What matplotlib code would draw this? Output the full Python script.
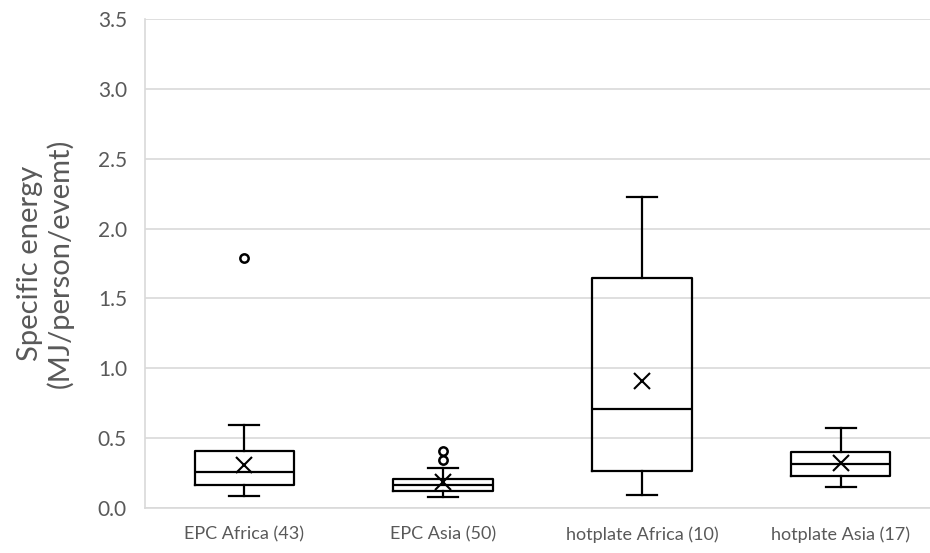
import matplotlib.pyplot as plt

# box statistics
labels = ["EPC Africa (43)", "EPC Asia (50)", "hotplate Africa (10)", "hotplate Asia (17)"]
whislo = [0.084, 0.079, 0.091, 0.148]
q1 = [0.163, 0.122, 0.268, 0.232]
med = [0.256, 0.163, 0.710, 0.316]
q3 = [0.409, 0.206, 1.643, 0.402]
whishi = [0.595, 0.285, 2.226, 0.576]
means = [0.308, 0.189, 0.911, 0.325]
fliers = [[1.786], [0.34, 0.41], [], []]

yticks = [0.0, 0.5, 1.0, 1.5, 2.0, 2.5, 3.0, 3.5]

plt.rcParams['font.family'] = ['Lato', 'DejaVu Sans']
gray = '#595959'

stats = []
for i in range(len(labels)):
    stats.append(dict(label=labels[i], whislo=whislo[i], q1=q1[i], med=med[i],
                      q3=q3[i], whishi=whishi[i], mean=means[i], fliers=fliers[i]))

fig = plt.figure(figsize=(9.3, 5.53), dpi=100)
ax = fig.add_axes([145 / 930, 45 / 553, 795 / 930, 489 / 553])

line = dict(color='black', linewidth=1.6)
ax.bxp(stats, positions=[1, 2, 3, 4], widths=0.5, showmeans=True,
       boxprops=line, whiskerprops=line, capprops=line, medianprops=line,
       capwidths=0.15,
       meanprops=dict(marker='x', markersize=12, markeredgecolor='black',
                      markeredgewidth=1.5),
       flierprops=dict(marker='o', markersize=6, markerfacecolor='none',
                       markeredgecolor='black', markeredgewidth=1.8))

ax.set_xlim(0.5, 4.5)
ax.set_ylim(0, 3.5)
ax.set_yticks(yticks)
ax.set_yticklabels([f"{v:.1f}" for v in yticks])
ax.yaxis.grid(True, color='#d9d9d9', linewidth=1.2)
ax.set_axisbelow(True)
for s in ['top', 'right']:
    ax.spines[s].set_visible(False)
for s in ['left', 'bottom']:
    ax.spines[s].set_color('#d9d9d9')
    ax.spines[s].set_linewidth(1.2)
ax.tick_params(axis='both', length=0, colors=gray)
ax.tick_params(axis='y', labelsize=15, pad=13)
ax.tick_params(axis='x', labelsize=13, pad=13)
ax.set_ylabel("Specific energy\n(MJ/person/evemt)", fontsize=21, color=gray,
              linespacing=1.15)
ax.yaxis.set_label_coords(-0.089, 0.5)

fig.savefig('out.png', dpi=100)
